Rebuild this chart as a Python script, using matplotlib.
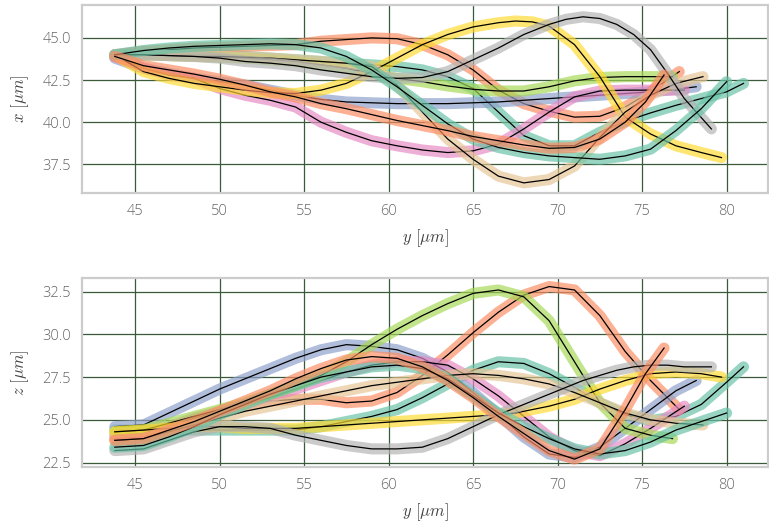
import matplotlib.pyplot as plt

# ── Trajectories: y position, x and z position (um) ────────────────────────
# colours follow the Set2 cycle in this order
y_a = [43.8, 45.5, 47, 48.5, 50, 51.5, 53, 54.5, 56, 57.5, 59, 60.5, 62, 63.5, 65, 66.5, 68, 69.5, 71, 72.5, 74, 75.5, 77, 78.5, 80, 81]
x_a = [43.9, 44.0, 44.0, 44.0, 44.0, 43.9, 43.8, 43.7, 43.6, 43.5, 43.4, 43.3, 43.1, 42.7, 42.0, 40.6, 39.2, 38.6, 38.6, 39.4, 40.05, 40.55, 41.0, 41.4, 41.8, 42.3]
z_a = [24.4, 24.4, 24.4, 24.4, 24.4, 24.4, 24.4, 24.4, 24.6, 24.9, 25.2, 25.6, 26.3, 27.1, 27.9, 28.4, 28.3, 27.7, 26.9, 26.0, 25.3, 24.95, 25.2, 25.9, 27.2, 28.1]

y_b = [43.8, 45.5, 47, 48.5, 50, 51.5, 53, 54.5, 56, 57.5, 59, 60.5, 62, 63.5, 65, 66.5, 68, 69.5, 71, 72.5, 74, 75.5, 77.2]
x_b = [44.0, 44.2, 44.3, 44.4, 44.45, 44.5, 44.55, 44.6, 44.8, 44.9, 45.0, 44.95, 44.6, 44.0, 43.1, 41.9, 41.1, 40.65, 40.3, 40.35, 40.9, 41.8, 43.0]
z_b = [23.9, 24.0, 24.5, 25.0, 25.4, 25.8, 26.1, 26.2, 26.2, 26.0, 26.1, 26.6, 27.6, 28.8, 30.1, 31.3, 32.3, 32.8, 32.6, 31.1, 29.0, 27.3, 25.6]

y_c = [43.8, 45.5, 47, 48.5, 50, 51.5, 53, 54.5, 56, 57.5, 59, 60.5, 62, 63.5, 65, 66.5, 68, 69.5, 71, 72.5, 74, 75.5, 77, 78.2]
x_c = [43.8, 43.2, 42.9, 42.6, 42.4, 42.2, 41.9, 41.6, 41.35, 41.2, 41.15, 41.1, 41.1, 41.1, 41.15, 41.2, 41.3, 41.4, 41.5, 41.6, 41.7, 41.8, 41.95, 42.1]
z_c = [24.6, 24.7, 25.4, 26.1, 26.8, 27.4, 28.0, 28.6, 29.1, 29.4, 29.3, 29.1, 28.6, 27.8, 26.6, 25.3, 24.0, 23.0, 22.8, 23.4, 24.5, 25.6, 26.7, 27.3]

y_d = [43.8, 45.5, 47, 48.5, 50, 51.5, 53, 54.5, 56, 57.5, 59, 60.5, 62, 63.5, 65, 66.5, 68, 69.5, 71, 72.5, 74, 75.5, 77.5]
x_d = [43.9, 43.2, 42.8, 42.6, 42.0, 41.6, 41.3, 40.9, 40.0, 39.4, 38.9, 38.6, 38.35, 38.2, 38.3, 38.7, 39.6, 40.6, 41.5, 41.85, 41.9, 41.9, 41.9]
z_d = [24.1, 24.2, 24.6, 25.1, 25.5, 25.9, 26.3, 26.8, 27.3, 27.8, 28.2, 28.4, 28.4, 28.2, 27.4, 26.4, 25.2, 24.0, 23.2, 22.9, 23.6, 24.5, 25.8]

y_e = [43.8, 45.5, 47, 48.5, 50, 51.5, 53, 54.5, 56, 57.5, 59, 60.5, 62, 63.5, 65, 66.5, 68, 69.5, 71, 72.5, 74, 75.5, 76.8]
x_e = [44.0, 44.0, 43.95, 43.9, 43.85, 43.8, 43.7, 43.6, 43.4, 43.2, 42.9, 42.6, 42.4, 42.15, 41.95, 41.85, 41.85, 42.1, 42.45, 42.65, 42.7, 42.7, 42.7]
z_e = [24.3, 24.4, 24.8, 25.2, 25.6, 26.0, 26.5, 27.0, 27.6, 28.4, 29.4, 30.3, 31.1, 31.8, 32.4, 32.6, 32.2, 30.8, 28.4, 26.0, 24.5, 24.1, 23.9]

y_f = [43.8, 45.5, 47, 48.5, 50, 51.5, 53, 54.5, 56, 57.5, 59, 60.5, 62, 63.5, 65, 66.5, 67.5, 68.5, 69.5, 71, 72.5, 74, 75.5, 77, 78.5, 79.7]
x_f = [44.0, 43.0, 42.6, 42.3, 42.1, 41.9, 41.75, 41.7, 41.9, 42.3, 43.0, 43.8, 44.6, 45.2, 45.65, 45.9, 46.0, 45.95, 45.7, 44.6, 42.7, 40.3, 39.3, 38.6, 38.2, 37.9]
z_f = [24.3, 24.4, 24.5, 24.6, 24.6, 24.5, 24.5, 24.5, 24.6, 24.7, 24.8, 24.9, 25.0, 25.1, 25.2, 25.3, 25.4, 25.6, 25.8, 26.2, 26.8, 27.3, 27.7, 27.8, 27.7, 27.5]

y_g = [43.8, 45.5, 47, 48.5, 50, 51.5, 53, 54.5, 56, 57.5, 59, 60.5, 62, 63.5, 65, 66.5, 68, 69.5, 71, 72.5, 74, 75.5, 77, 78.6]
x_g = [44.0, 44.0, 43.95, 43.9, 43.9, 43.85, 43.8, 43.7, 43.6, 43.5, 43.3, 42.2, 40.6, 39.0, 37.8, 36.8, 36.4, 36.6, 37.4, 39.1, 40.6, 41.6, 42.3, 42.7]
z_g = [23.8, 23.9, 24.3, 24.7, 25.1, 25.5, 25.8, 26.1, 26.4, 26.7, 27.0, 27.2, 27.4, 27.6, 27.7, 27.6, 27.4, 27.1, 26.6, 26.0, 25.4, 25.0, 24.8, 24.7]

y_h = [43.8, 45.5, 47, 48.5, 50, 51.5, 53, 54.5, 56, 57.5, 59, 60.5, 62, 63.5, 65, 66.5, 68, 69.5, 70.5, 71.5, 72.5, 73.5, 74.5, 75.5, 76.5, 77.5, 79.1]
x_h = [44.0, 44.0, 43.95, 43.9, 43.8, 43.6, 43.5, 43.35, 43.1, 42.9, 42.7, 42.6, 42.65, 43.0, 43.7, 44.4, 45.2, 45.8, 46.1, 46.25, 46.15, 45.8, 45.2, 44.3, 42.9, 41.4, 39.6]
z_h = [23.2, 23.3, 23.8, 24.3, 24.6, 24.6, 24.5, 24.1, 23.8, 23.5, 23.3, 23.3, 23.4, 23.9, 24.6, 25.3, 25.9, 26.5, 26.9, 27.3, 27.6, 27.9, 28.1, 28.2, 28.2, 28.1, 28.1]

y_i = [43.8, 45.5, 47, 48.5, 50, 51.5, 53, 54.5, 56, 57.5, 59, 60.5, 62, 63.5, 65, 66.5, 68, 69.5, 71, 72.5, 74, 75.5, 77, 78.5, 80]
x_i = [44.0, 44.25, 44.4, 44.5, 44.55, 44.6, 44.65, 44.6, 44.4, 43.9, 43.1, 42.1, 41.0, 39.9, 39.0, 38.5, 38.2, 38.0, 37.9, 37.8, 38.0, 38.4, 39.5, 40.8, 42.4]
z_i = [23.4, 23.5, 24.0, 24.6, 25.3, 25.9, 26.5, 27.0, 27.5, 27.8, 28.1, 28.2, 28.0, 27.4, 26.4, 25.4, 24.6, 23.9, 23.3, 23.0, 23.2, 23.7, 24.4, 24.9, 25.4]

y_j = [43.8, 45.5, 47, 48.5, 50, 51.5, 53, 54.5, 56, 57.5, 59, 60.5, 62, 63.5, 65, 66.5, 68, 69.5, 71, 72.5, 74, 75.2, 76.3]
x_j = [43.9, 43.35, 43.1, 42.85, 42.55, 42.2, 41.8, 41.5, 41.1, 40.8, 40.45, 40.1, 39.8, 39.5, 39.15, 38.9, 38.65, 38.45, 38.5, 39.0, 40.0, 41.2, 42.8]
z_j = [23.8, 23.9, 24.4, 24.9, 25.5, 26.1, 26.7, 27.4, 28.0, 28.5, 28.7, 28.6, 28.1, 27.3, 26.3, 25.2, 24.2, 23.2, 22.7, 23.3, 25.6, 27.7, 29.2]

TRACKS = [(y_a, x_a, z_a), (y_b, x_b, z_b), (y_c, x_c, z_c), (y_d, x_d, z_d),
          (y_e, x_e, z_e), (y_f, x_f, z_f), (y_g, x_g, z_g), (y_h, x_h, z_h),
          (y_i, x_i, z_i), (y_j, x_j, z_j)]

plt.rcParams['mathtext.fontset'] = 'cm'
palette = plt.get_cmap('Set2').colors

fig = plt.figure(figsize=(7.69, 5.23), dpi=100)
W, H = 769, 523
ax1 = fig.add_axes([82 / W, 1 - 193 / H, 686 / W, 188 / H])
ax2 = fig.add_axes([82 / W, 1 - 467 / H, 686 / W, 189 / H])

for k, (y, x, z) in enumerate(TRACKS):
    col = palette[k % len(palette)]
    for ax, v in ((ax1, x), (ax2, z)):
        ax.plot(y, v, color=col, lw=8, alpha=0.68,
                solid_capstyle='round', solid_joinstyle='round')
        ax.plot(y, v, color='black', lw=0.9)

ax1.set_ylim(35.8, 46.95)
ax1.set_yticks([37.5, 40.0, 42.5, 45.0])
ax1.set_ylabel(r'$x\ [\mu m]$', fontsize=12, color='#444444', labelpad=8)

ax2.set_ylim(22.24, 33.3)
ax2.set_yticks([22.5, 25.0, 27.5, 30.0, 32.5])
ax2.set_ylabel(r'$z\ [\mu m]$', fontsize=12, color='#444444', labelpad=8)

for ax in (ax1, ax2):
    ax.set_xlim(41.86, 82.45)
    ax.set_xticks([45, 50, 55, 60, 65, 70, 75, 80])
    ax.set_xlabel(r'$y\ [\mu m]$', fontsize=12, color='#444444', labelpad=6)
    ax.yaxis.set_major_formatter(plt.FormatStrFormatter('%.1f'))
    ax.set_axisbelow(True)
    ax.grid(True, color='#3a5a3a', lw=0.9)
    ax.tick_params(length=0, pad=8, labelsize=10.5, labelcolor='#666666')
    for s in ax.spines.values():
        s.set_color('#cccccc')
        s.set_linewidth(1.6)
    for lab in ax.get_xticklabels() + ax.get_yticklabels():
        lab.set_family(['Open Sans', 'DejaVu Sans'])
        lab.set_fontweight('light')

fig.savefig('out.png', dpi=100)
